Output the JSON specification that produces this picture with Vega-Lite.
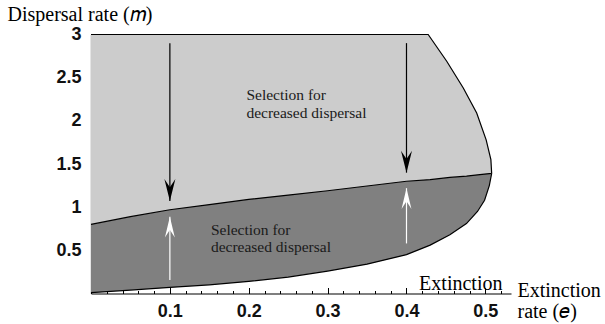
{
  "$schema": "https://vega.github.io/schema/vega-lite/v6.json",
  "width": 420,
  "height": 259,
  "autosize": "none",
  "padding": {"left": 91, "top": 34.5, "right": 94, "bottom": 30.5},
  "background": "white",
  "config": {"view": {"stroke": null}},
  "datasets": {
    "upper": [
      {"e": 0.0, "top": 3.0, "mid": 0.8},
      {"e": 0.05, "top": 3.0, "mid": 0.89},
      {"e": 0.1, "top": 3.0, "mid": 0.97},
      {"e": 0.15, "top": 3.0, "mid": 1.03},
      {"e": 0.2, "top": 3.0, "mid": 1.09},
      {"e": 0.25, "top": 3.0, "mid": 1.14},
      {"e": 0.3, "top": 3.0, "mid": 1.19},
      {"e": 0.35, "top": 3.0, "mid": 1.245},
      {"e": 0.4, "top": 3.0, "mid": 1.3},
      {"e": 0.4275, "top": 3.0, "mid": 1.32},
      {"e": 0.451, "top": 2.69, "mid": 1.34},
      {"e": 0.472, "top": 2.38, "mid": 1.36},
      {"e": 0.489, "top": 2.09, "mid": 1.375},
      {"e": 0.501, "top": 1.78, "mid": 1.385},
      {"e": 0.507, "top": 1.55, "mid": 1.39},
      {"e": 0.508, "top": 1.39, "mid": 1.39}
    ],
    "lower": [
      {"e": 0.0, "mid": 0.8, "low": 0.01},
      {"e": 0.05, "mid": 0.89, "low": 0.04},
      {"e": 0.1, "mid": 0.97, "low": 0.07},
      {"e": 0.15, "mid": 1.03, "low": 0.1},
      {"e": 0.2, "mid": 1.09, "low": 0.14},
      {"e": 0.25, "mid": 1.14, "low": 0.19},
      {"e": 0.3, "mid": 1.19, "low": 0.26},
      {"e": 0.35, "mid": 1.245, "low": 0.34},
      {"e": 0.4, "mid": 1.3, "low": 0.45},
      {"e": 0.43, "mid": 1.32, "low": 0.56},
      {"e": 0.455, "mid": 1.345, "low": 0.68},
      {"e": 0.476, "mid": 1.36, "low": 0.81},
      {"e": 0.49, "mid": 1.375, "low": 0.95},
      {"e": 0.499, "mid": 1.383, "low": 1.08},
      {"e": 0.505, "mid": 1.388, "low": 1.25},
      {"e": 0.508, "mid": 1.39, "low": 1.39}
    ],
    "arrows": [
      {"e": 0.1, "from": 2.9, "to": 1.07, "kind": "down"},
      {"e": 0.4, "from": 2.9, "to": 1.4, "kind": "down"},
      {"e": 0.1, "from": 0.157, "to": 0.89, "kind": "up"},
      {"e": 0.4, "from": 0.58, "to": 1.22, "kind": "up"}
    ],
    "regionLabels": [
      {"e": 0.197, "m": 2.241, "text": "Selection for\ndecreased dispersal"},
      {"e": 0.152, "m": 0.678, "text": "Selection for\ndecreased dispersal"}
    ],
    "axisNote": [
      {"e": 0.416, "m": 0.04, "text": "Extinction"}
    ]
  },
  "resolve": {"axis": {"x": "independent", "y": "independent"}},
  "layer": [
    {
      "data": {"name": "upper"},
      "mark": {"type": "area", "color": "#cccccc", "orient": "vertical"},
      "encoding": {
        "x": {"field": "e", "type": "quantitative",
              "scale": {"domain": [0, 0.5325], "nice": false, "zero": false},
              "axis": {"orient": "bottom", "values": [0.02,0.04,0.06,0.08,0.1,0.12,0.14,0.16,0.18,0.2,0.22,0.24,0.26,0.28,0.3,0.32,0.34,0.36,0.38,0.4,0.42,0.44,0.46,0.48,0.5,0.52],
                       "labels": false, "title": null, "grid": false, "tickSize": -3, "tickColor": "black", "tickWidth": 1,
                       "domainColor": "black", "domainWidth": 1.2}},
        "y": {"field": "top", "type": "quantitative",
              "scale": {"domain": [0, 3], "nice": false, "zero": false},
              "axis": {"orient": "left", "values": [0.1,0.2,0.3,0.4,0.5,0.6,0.7,0.8,0.9,1,1.1,1.2,1.3,1.4,1.5,1.6,1.7,1.8,1.9,2,2.1,2.2,2.3,2.4,2.5,2.6,2.7,2.8,2.9],
                       "labels": false, "title": null, "grid": false, "tickSize": -3, "tickColor": "black", "tickWidth": 1,
                       "domainColor": "black", "domainWidth": 1.2}},
        "y2": {"field": "mid"}
      }
    },
    {
      "data": {"name": "lower"},
      "mark": {"type": "area", "color": "#808080", "orient": "vertical"},
      "encoding": {
        "x": {"field": "e", "type": "quantitative",
              "scale": {"domain": [0, 0.5325], "nice": false, "zero": false},
              "axis": {"orient": "bottom", "values": [0.1, 0.2, 0.3, 0.4, 0.5], "format": "~g",
                       "domain": false, "grid": false, "tickSize": -6, "tickColor": "black", "tickWidth": 1,
                       "labelFont": "Liberation Sans", "labelFontSize": 18, "labelFontWeight": "bold", "labelColor": "#111111", "labelPadding": 15,
                       "title": ["Extinction", "rate (𝑒)"], "titleFont": "Liberation Serif", "titleFontSize": 20,
                       "titleFontWeight": "normal", "titleColor": "black", "titleAlign": "left", "titleBaseline": "alphabetic",
                       "titleAnchor": "start", "titleX": 426, "titleY": 3, "titleLineHeight": 20.5}},
        "y": {"field": "mid", "type": "quantitative",
              "scale": {"domain": [0, 3], "nice": false, "zero": false},
              "axis": {"orient": "left", "values": [0.5, 1, 1.5, 2, 2.5, 3], "format": "~g",
                       "domain": false, "grid": false, "tickSize": -6, "tickColor": "black", "tickWidth": 1,
                       "labelFont": "Liberation Sans", "labelFontSize": 18, "labelFontWeight": "bold", "labelColor": "#111111", "labelPadding": 16,
                       "title": "Dispersal rate (𝑚)", "titleFont": "Liberation Serif", "titleFontSize": 20,
                       "titleFontWeight": "normal", "titleColor": "black", "titleAngle": 0, "titleAlign": "left",
                       "titleBaseline": "alphabetic", "titleAnchor": "start", "titleX": -84, "titleY": -14}},
        "y2": {"field": "low"}
      }
    },
    {
      "data": {"name": "upper"},
      "mark": {"type": "line", "color": "black", "strokeWidth": 1.2},
      "encoding": {
        "x": {"field": "e", "type": "quantitative", "scale": {"domain": [0, 0.5325], "nice": false, "zero": false}, "axis": null},
        "y": {"field": "top", "type": "quantitative", "scale": {"domain": [0, 3], "nice": false, "zero": false}, "axis": null}
      }
    },
    {
      "data": {"name": "lower"},
      "mark": {"type": "line", "color": "black", "strokeWidth": 1.2},
      "encoding": {
        "x": {"field": "e", "type": "quantitative", "scale": {"domain": [0, 0.5325], "nice": false, "zero": false}, "axis": null},
        "y": {"field": "mid", "type": "quantitative", "scale": {"domain": [0, 3], "nice": false, "zero": false}, "axis": null}
      }
    },
    {
      "data": {"name": "lower"},
      "mark": {"type": "line", "color": "black", "strokeWidth": 1.2},
      "encoding": {
        "x": {"field": "e", "type": "quantitative", "scale": {"domain": [0, 0.5325], "nice": false, "zero": false}, "axis": null},
        "y": {"field": "low", "type": "quantitative", "scale": {"domain": [0, 3], "nice": false, "zero": false}, "axis": null}
      }
    },
    {
      "data": {"name": "arrows"},
      "mark": {"type": "rule", "strokeWidth": 1.2},
      "encoding": {
        "x": {"field": "e", "type": "quantitative", "scale": {"domain": [0, 0.5325], "nice": false, "zero": false}, "axis": null},
        "y": {"field": "from", "type": "quantitative", "scale": {"domain": [0, 3], "nice": false, "zero": false}, "axis": null},
        "y2": {"field": "to"},
        "color": {"field": "kind", "type": "nominal", "scale": {"domain": ["down", "up"], "range": ["black", "white"]}, "legend": null}
      }
    },
    {
      "data": {"name": "arrows"},
      "mark": {"type": "point", "filled": true, "size": 484, "opacity": 1, "strokeWidth": 0},
      "encoding": {
        "x": {"field": "e", "type": "quantitative", "scale": {"domain": [0, 0.5325], "nice": false, "zero": false}, "axis": null},
        "y": {"field": "to", "type": "quantitative", "scale": {"domain": [0, 3], "nice": false, "zero": false}, "axis": null},
        "shape": {"field": "kind", "type": "nominal",
                  "scale": {"domain": ["down", "up"], "range": ["M0,0L-0.5,-2L0,-1.25L0.5,-2Z", "M0,0L-0.45,1.9L0,1.2L0.45,1.9Z"]}, "legend": null},
        "color": {"field": "kind", "type": "nominal", "scale": {"domain": ["down", "up"], "range": ["black", "white"]}, "legend": null}
      }
    },
    {
      "data": {"name": "regionLabels"},
      "mark": {"type": "text", "align": "left", "baseline": "alphabetic", "font": "Liberation Serif", "fontSize": 15.5,
               "lineHeight": 17.5, "lineBreak": "\n", "color": "#1a1a1a"},
      "encoding": {
        "x": {"field": "e", "type": "quantitative", "scale": {"domain": [0, 0.5325], "nice": false, "zero": false}, "axis": null},
        "y": {"field": "m", "type": "quantitative", "scale": {"domain": [0, 3], "nice": false, "zero": false}, "axis": null},
        "text": {"field": "text"}
      }
    },
    {
      "data": {"name": "axisNote"},
      "mark": {"type": "text", "align": "left", "baseline": "alphabetic", "font": "Liberation Serif", "fontSize": 20, "color": "black"},
      "encoding": {
        "x": {"field": "e", "type": "quantitative", "scale": {"domain": [0, 0.5325], "nice": false, "zero": false}, "axis": null},
        "y": {"field": "m", "type": "quantitative", "scale": {"domain": [0, 3], "nice": false, "zero": false}, "axis": null},
        "text": {"field": "text"}
      }
    }
  ]
}
